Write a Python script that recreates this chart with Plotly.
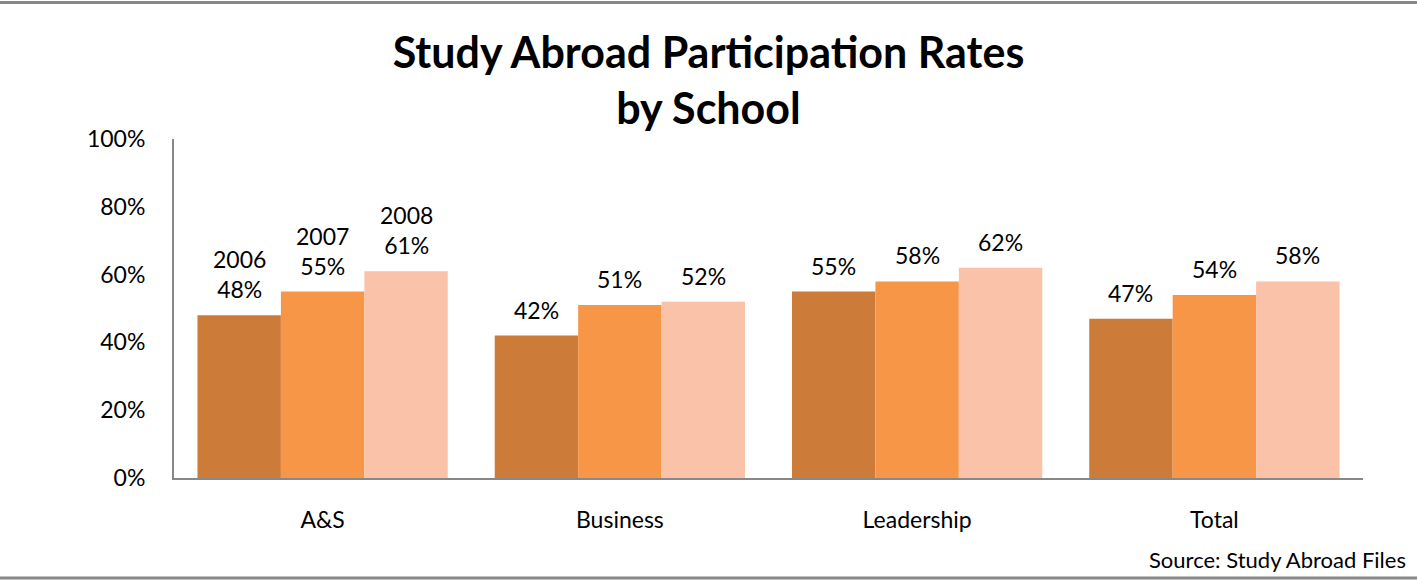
import plotly.graph_objects as go

categories = ["A&S", "Business", "Leadership", "Total"]
years = ["2006", "2007", "2008"]
rates_2006 = [0.48, 0.42, 0.55, 0.47]
rates_2007 = [0.55, 0.51, 0.58, 0.54]
rates_2008 = [0.61, 0.52, 0.62, 0.58]
colors = ["#CD7B38", "#F79646", "#FAC2A8"]
y_ticks = [0, 0.2, 0.4, 0.6, 0.8, 1.0]
y_tick_labels = ["0%", "20%", "40%", "60%", "80%", "100%"]

W, H = 1417, 581
L, R, T, B = 174, 1363, 139, 478
FONT = "Lato"
FS = 23
BARGAP = 0.158

fig = go.Figure()
series = [rates_2006, rates_2007, rates_2008]
for yr, vals, col in zip(years, series, colors):
    fig.add_trace(go.Bar(
        x=categories, y=vals, name=yr, marker=dict(color=col, line=dict(width=0)),
        hoverinfo="skip",
    ))

def px_x(p):
    return (p - L) / (R - L)

def px_y(p):
    return (B - p) / (B - T)

# data labels placed through the axes (category index + group offset, value)
bw = (1 - BARGAP) / len(years)
annotations = []
for k, (yr, vals) in enumerate(zip(years, series)):
    off = (k - (len(years) - 1) / 2) * bw
    for i, v in enumerate(vals):
        txt = f"{yr}<br>{round(v*100)}%" if i == 0 else f"{round(v*100)}%"
        annotations.append(dict(
            x=i + off, y=v, xref="x", yref="y", text=txt, showarrow=False,
            xanchor="center", yanchor="bottom", yshift=10,
            font=dict(family=FONT, size=FS, color="#000000"),
        ))

annotations.append(dict(
    text="Source: Study Abroad Files", xref="paper", yref="paper",
    x=px_x(1408), y=px_y(559), xanchor="right", yanchor="middle",
    showarrow=False, font=dict(family=FONT, size=22, color="#000000"),
))

fig.update_layout(
    width=W, height=H,
    margin=dict(l=L, r=W - R, t=T, b=H - B),
    paper_bgcolor="white", plot_bgcolor="white",
    barmode="group", bargap=BARGAP, bargroupgap=0,
    showlegend=False,
    font=dict(family=FONT, size=FS, color="#000000"),
    title=dict(text="<b>Study Abroad Participation Rates<br>by School</b>",
               x=0.5, xanchor="center", y=1 - 68 / H, yanchor="middle",
               font=dict(family=FONT, size=43, color="#000000")),
    xaxis=dict(showline=True, linecolor="#888888", linewidth=2, ticks="",
               showgrid=False, tickfont=dict(family=FONT, size=FS), ticklabelstandoff=20),
    yaxis=dict(range=[0, 1], tickvals=y_ticks, ticktext=y_tick_labels,
               showline=True, linecolor="#888888", linewidth=2, ticks="",
               showgrid=False, zeroline=False, tickfont=dict(family=FONT, size=FS),
               ticklabelstandoff=22),
    shapes=[
        dict(type="line", xref="paper", yref="paper", x0=px_x(0), x1=px_x(W),
             y0=px_y(2.5), y1=px_y(2.5), line=dict(color="#888888", width=3)),
        dict(type="line", xref="paper", yref="paper", x0=px_x(0), x1=px_x(W),
             y0=px_y(578), y1=px_y(578), line=dict(color="#888888", width=3)),
    ],
    annotations=annotations,
)

fig.write_html("out.html", config={"displayModeBar": False},
               post_script="document.body.style.margin='0';")
